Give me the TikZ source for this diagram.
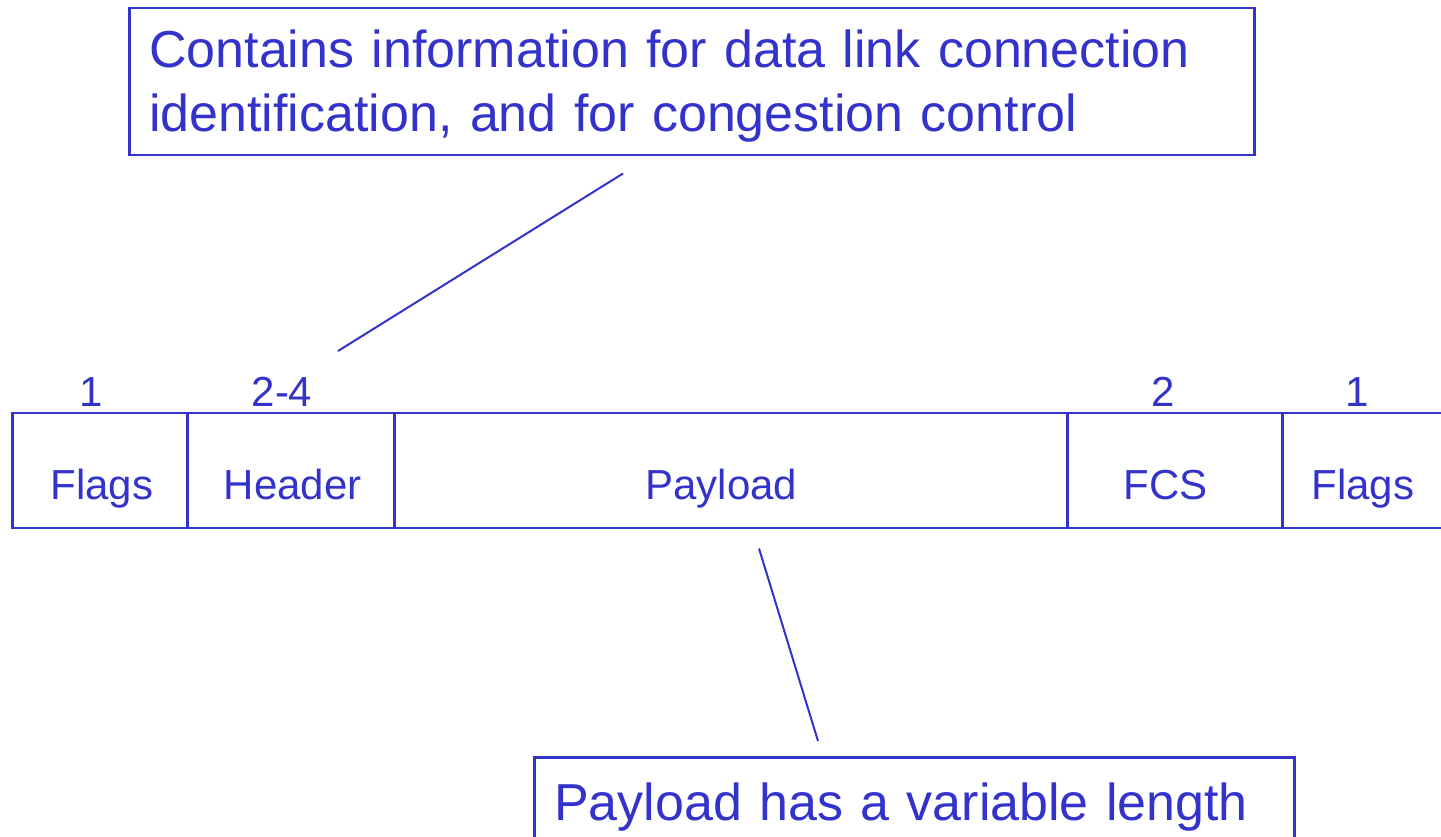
\documentclass[tikz,border=0pt]{standalone}
\usepackage{fontspec}
\setmainfont{Liberation Sans}
\usetikzlibrary{calc}
\definecolor{ink}{RGB}{51,51,204}

\begin{document}
\begin{tikzpicture}[x=1pt,y=1pt,
  line width=2.5pt, draw=ink, text=ink,
  field/.style={draw, anchor=north west, minimum height=115pt, inner sep=0pt,
    font=\fontsize{42}{50}\selectfont, text height=60pt, text depth=3pt},
  bytes/.style={anchor=base, inner sep=0pt, font=\fontsize{42}{50}\selectfont},
  note/.style={draw, anchor=north west, inner xsep=20pt, inner ysep=0pt,
    align=left},
  pointer/.style={line width=2pt}]
  \useasboundingbox (0,0) rectangle (1441,836);
  \clip (0,0) rectangle (1441,836);

  % frame layout: one box per field
  \node[field, minimum width=175pt] (flagsA) at (11,424) {\hspace*{4pt}Flags};
  \node[field, minimum width=207pt] (header) at (186,424) {\hspace*{4pt}Header};
  \node[field, minimum width=673pt] (payload) at (393,424) {\hspace*{-19pt}Payload};
  \node[field, minimum width=215pt] (fcs) at (1066,424) {\hspace*{-18pt}FCS};
  \node[field, minimum width=166pt] (flagsB) at (1281,424) {\hspace*{-5pt}Flags};

  % field sizes in octets
  \node[bytes] (nA) at ($(flagsA.north west)+(80,5)$) {1};
  \node[bytes] (nH) at ($(header.north west)+(96,5)$) {2-4};
  \node[bytes] (nF) at ($(fcs.north west)+(97,5)$) {2};
  \node[bytes] (nB) at ($(flagsB.north west)+(76,5)$) {1};

  % callouts
  \node[note, minimum width=1125pt, minimum height=147pt, text width=1085pt,
        font=\fontsize{52}{64}\selectfont] (hdrnote) at (128,829)
    {\rule{0pt}{46pt}Contains information for data link connection\\identification, and for congestion control};
  \node[note, minimum width=760pt, minimum height=100pt, text width=720pt,
        font=\fontsize{52}{64}\selectfont] (paynote) at (533,80)
    {Payload has a variable length};

  % leader lines
  \coordinate (hA) at ($(hdrnote.south west)+(495,-17)$);
  \coordinate (hB) at ($(header.north west)+(152,61)$);
  \draw[pointer] (hA) -- (hB);
  \coordinate (pA) at ($(payload.south west)+(366,-19)$);
  \coordinate (pB) at ($(paynote.north west)+(285,15)$);
  \draw[pointer] (pA) -- (pB);
\end{tikzpicture}
\end{document}
